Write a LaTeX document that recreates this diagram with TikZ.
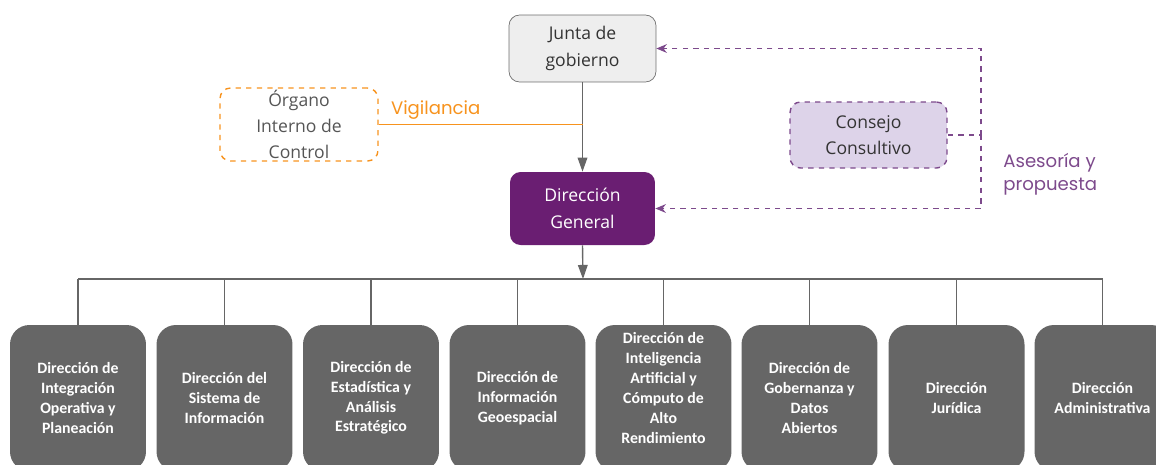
\documentclass[tikz,border=0pt]{standalone}
\usepackage{fontspec}
\setmainfont{Open Sans}
\newfontfamily\popfont{Poppins}
\newfontfamily\dirfont{Carlito}
\usepackage{tikz}
\usetikzlibrary{positioning,calc,arrows.meta}
\definecolor{grisjunta}{HTML}{EEEEEE}
\definecolor{grisborde}{HTML}{6E6E6E}
\definecolor{grislinea}{HTML}{666666}
\definecolor{gristexto}{HTML}{555555}
\definecolor{morado}{HTML}{6A1E72}
\definecolor{moradoclaro}{HTML}{7D4A8C}
\definecolor{lavanda}{HTML}{DDD3E9}
\definecolor{naranja}{HTML}{F7931E}

\begin{document}
\begin{tikzpicture}[x=0.02cm,y=-0.02cm,
    caja/.style={rounded corners=6pt, align=center, inner sep=0pt,
      font=\fontsize{10}{15}\selectfont},
    dir/.style={rounded corners=11pt, fill=grislinea,
      minimum width=2.72cm, minimum height=2.92cm, inner sep=0pt},
    dirtxt/.style={text=white, align=center, inner sep=0pt,
      font=\dirfont\bfseries\fontsize{9}{11.3}\selectfont},
    flecha/.style={grislinea, line width=0.8pt, -{Triangle[length=8pt,width=5.5pt]}},
    linea/.style={grislinea, line width=0.8pt},
    asesoria/.style={moradoclaro, dashed, line width=0.8pt},
    etiq/.style={font=\popfont\fontsize{10.3}{13}\selectfont, align=left, inner sep=0pt}]
  \useasboundingbox (0,0) rectangle (1156,464);

  \node[caja, fill=grisjunta, draw=grisborde, text=black!80,
    minimum width=2.94cm, minimum height=1.34cm] (j) at (582.5,48.5) {Junta de\\gobierno};
  \node[caja, fill=morado, text=white,
    minimum width=2.9cm, minimum height=1.46cm] (dg) at (582.5,208.5) {Dirección\\General};
  \node[caja, draw=naranja, dashed, line width=0.8pt, text=gristexto,
    minimum width=3.16cm, minimum height=1.46cm] (oic) at (299,124.5) {Órgano\\Interno de\\Control};
  \node[caja, draw=moradoclaro, dashed, line width=0.8pt, fill=lavanda, text=black!80,
    minimum width=3.14cm, minimum height=1.32cm] (cc) at (868.5,135) {Consejo\\Consultivo};

  % vigilancia
  \draw[flecha] (j) -- (dg);
  \coordinate (v) at (j.south |- oic.east);
  \draw[naranja, line width=0.9pt] (oic.east) -- (v);
  \node[etiq, text=naranja, anchor=south west] (vig) at ($(oic.east)+(12,-5)$) {Vigilancia};

  % asesoria
  \coordinate (c) at (981,135);
  \draw[asesoria] (cc.east) -- (c);
  \draw[asesoria, -{Stealth[length=6pt,width=5pt]}] (c) |- (j.east);
  \draw[asesoria, -{Stealth[length=6pt,width=5pt]}] (c) |- (dg.east);
  \node[etiq, text=moradoclaro, anchor=north west] (ase) at (1003,153) {Asesoría y\\propuesta};

  % direcciones
  \foreach \i/\x/\dy/\t in {1/78/0/{Dirección de\\Integración\\Operativa y\\Planeación},
      2/224.5/0/{Dirección del\\Sistema de\\Información},
      3/371/0/{Dirección de\\Estadística y\\Análisis\\Estratégico},
      4/517.5/0/{Dirección de\\Información\\Geoespacial},
      5/663.5/-10/{Dirección de\\Inteligencia\\Artificial y\\Cómputo de\\Alto\\Rendimiento},
      6/809.5/0/{Dirección de\\Gobernanza y\\Datos\\Abiertos},
      7/956.5/0/{Dirección\\Jurídica},
      8/1102.5/0/{Dirección\\Administrativa}}
  {
    \node[dir] (d\i) at (\x,398) {};
    \node[dirtxt] (t\i) at ($(d\i)+(0,\dy)$) {\t};
  }

  \coordinate (b) at (583,279);
  \draw[flecha] (dg.south) -- (b);
  \draw[linea] (d1.north |- b) -- (d8.north |- b);
  \foreach \i in {1,...,8}
    \draw[linea] (d\i.north |- b) -- (d\i.north);
\end{tikzpicture}
\end{document}
